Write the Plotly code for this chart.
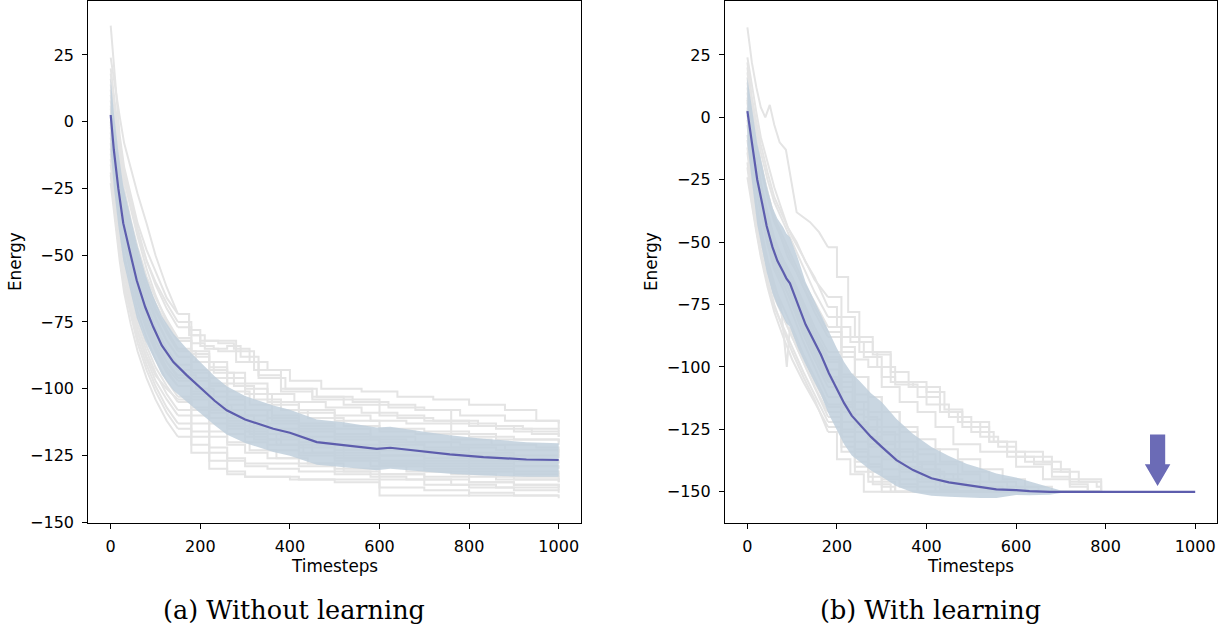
import plotly.graph_objects as go

# ---------------- Panel (a): without learning ----------------
T_MEAN_A = [0, 7, 17, 28, 43, 58, 77, 95, 114, 140, 170, 207, 232, 259, 300, 363, 400,
            460, 520, 594, 624, 700, 757, 832, 928, 1000]
MEAN_A = [2.5, -10.6, -25, -38, -48.8, -59.4, -69.4, -76.9, -83.8, -90, -95, -100.6,
          -104.5, -108.1, -111.5, -115, -116.5, -120, -121, -122.5, -122.1, -123.6, -124.6,
          -125.6, -126.5, -126.7]
STD_A = [14, 14, 14, 14, 14, 14, 12.5, 11.5, 11, 10.7, 10, 9.5, 9.2, 9, 8.8, 8.7, 8.6,
         8.5, 8.4, 8, 7.9, 7.5, 7.2, 6.9, 6.5, 6.3]

RUNS_A = [
    [(0, 36), (10, 14), (20, -5), (30, -17), (45, -28), (60, -38), (80, -48), (100, -56),
     (125, -66), (150, -72), (175, -78), (200, -82), (240, -83), (275, -85), (310, -90),
     (350, -93), (400, -97), (470, -100), (560, -101), (640, -103), (720, -104),
     (800, -106), (880, -108), (950, -112), (1000, -113)],
    [(0, 24), (10, 12), (20, 2), (30, -8), (45, -18), (60, -27), (80, -38), (100, -50),
     (125, -62), (150, -72), (175, -80), (210, -82), (250, -82), (280, -86), (320, -93),
     (380, -100), (450, -104), (520, -106), (600, -110), (700, -112), (800, -114),
     (900, -116), (1000, -118)],
    [(0, 18), (10, 4), (20, -12), (30, -22), (45, -33), (60, -43), (80, -55), (100, -65),
     (125, -75), (150, -82), (180, -88), (220, -92), (260, -96), (300, -100), (350, -105),
     (420, -108), (500, -110), (580, -112), (660, -113), (760, -117), (860, -119),
     (1000, -121)],
    [(0, 12), (10, -3), (20, -18), (30, -30), (45, -42), (60, -52), (80, -62), (100, -70),
     (125, -78), (150, -85), (180, -90), (220, -96), (260, -101), (310, -106), (360, -110),
     (420, -113), (500, -115), (580, -118), (680, -120), (780, -121), (880, -123),
     (1000, -124)],
    [(0, 8), (10, -8), (20, -22), (30, -34), (45, -45), (60, -55), (80, -65), (100, -73),
     (125, -82), (150, -88), (180, -94), (220, -99), (260, -104), (300, -108), (360, -112),
     (420, -115), (500, -118), (600, -120), (700, -122), (800, -124), (900, -125),
     (1000, -126)],
    [(0, 5), (10, -11), (20, -25), (30, -36), (45, -48), (60, -58), (80, -68), (100, -77),
     (125, -85), (150, -91), (180, -96), (220, -101), (260, -106), (300, -110), (350, -113),
     (420, -116), (500, -119), (600, -121), (700, -123), (800, -125), (900, -127),
     (1000, -128)],
    [(0, 2), (10, -14), (20, -28), (30, -39), (45, -50), (60, -61), (80, -71), (100, -79),
     (125, -87), (150, -93), (180, -97), (220, -103), (260, -108), (300, -112), (350, -115),
     (420, -118), (500, -121), (600, -123), (700, -124), (800, -126), (900, -127),
     (1000, -127)],
    [(0, -2), (10, -17), (20, -31), (30, -42), (45, -53), (60, -63), (80, -73), (100, -82),
     (125, -90), (150, -96), (180, -101), (220, -106), (260, -111), (300, -114),
     (350, -117), (420, -120), (500, -123), (600, -125), (700, -126), (800, -128),
     (900, -129), (1000, -130)],
    [(0, -6), (10, -21), (20, -35), (30, -46), (45, -57), (60, -67), (80, -77), (100, -85),
     (125, -93), (150, -99), (180, -104), (220, -109), (260, -113), (300, -116),
     (350, -119), (420, -122), (500, -125), (600, -127), (700, -128), (800, -129),
     (900, -131), (1000, -132)],
    [(0, -10), (10, -25), (20, -39), (30, -50), (45, -61), (60, -71), (80, -81), (100, -89),
     (125, -97), (150, -103), (180, -108), (220, -113), (260, -117), (300, -120),
     (350, -123), (420, -125), (500, -127), (600, -129), (700, -131), (800, -133),
     (900, -134), (1000, -135)],
    [(0, -14), (10, -29), (20, -43), (30, -55), (45, -66), (60, -76), (80, -86), (100, -94),
     (125, -102), (150, -108), (180, -113), (220, -118), (260, -121), (300, -124),
     (350, -126), (420, -128), (500, -130), (600, -132), (700, -134), (800, -135),
     (900, -136), (1000, -137)],
    [(0, -19), (10, -34), (20, -48), (30, -60), (45, -71), (60, -81), (80, -91), (100, -99),
     (125, -107), (150, -113), (180, -118), (220, -124), (260, -127), (300, -129),
     (350, -130), (420, -131), (500, -132), (600, -134), (700, -136), (800, -137),
     (900, -138), (1000, -139)],
    [(0, -23), (10, -38), (20, -52), (30, -64), (45, -76), (60, -86), (80, -96), (100, -104),
     (125, -112), (150, -118), (180, -124), (220, -130), (260, -132), (300, -133),
     (400, -134), (500, -135), (600, -140), (700, -140), (800, -139), (900, -140),
     (1000, -140)],
    [(0, 16), (10, 2), (20, -10), (30, -20), (45, -32), (60, -42), (80, -52), (100, -60),
     (125, -68), (150, -75), (180, -80), (200, -84), (230, -85), (260, -84), (290, -88),
     (330, -95), (380, -101), (450, -103), (520, -104), (600, -106), (680, -108),
     (760, -113), (860, -115), (940, -117), (1000, -118)],
    [(0, -8), (10, -26), (20, -42), (30, -55), (45, -68), (60, -78), (80, -88), (100, -95),
     (125, -100), (150, -104), (180, -107), (220, -111), (260, -115), (320, -119),
     (380, -121), (450, -124), (520, -126), (600, -128), (700, -130), (800, -131),
     (900, -133), (1000, -134)],
    [(0, 10), (10, -4), (20, -16), (30, -27), (45, -40), (60, -50), (80, -60), (100, -68),
     (125, -76), (150, -82), (180, -87), (220, -93), (260, -98), (300, -102), (360, -106),
     (420, -109), (500, -112), (600, -115), (700, -116), (800, -118), (900, -119),
     (1000, -120)],
    [(0, 6), (10, -9), (20, -20), (30, -31), (45, -43), (60, -53), (80, -63), (100, -71),
     (125, -79), (150, -86), (190, -90), (230, -94), (275, -99), (320, -104), (380, -108),
     (440, -111), (520, -114), (600, -116), (680, -117), (760, -119), (850, -121),
     (950, -122), (1000, -123)],
    [(0, -1), (10, -16), (20, -30), (30, -42), (45, -54), (60, -64), (80, -74), (100, -82),
     (125, -90), (150, -95), (190, -100), (230, -106), (270, -110), (320, -115),
     (380, -118), (450, -121), (520, -124), (600, -125), (700, -127), (800, -127),
     (900, -129), (1000, -129)],
    [(0, -16), (10, -32), (20, -46), (30, -57), (45, -69), (60, -79), (80, -89), (100, -97),
     (125, -104), (150, -110), (180, -116), (220, -122), (260, -126), (300, -128),
     (360, -128), (420, -129), (500, -131), (580, -133), (660, -134), (760, -136),
     (860, -137), (1000, -138)],
    [(0, 20), (10, 6), (20, -8), (30, -19), (45, -30), (60, -40), (80, -52), (100, -61),
     (125, -70), (150, -77), (180, -83), (210, -85), (240, -86), (280, -90), (330, -96),
     (390, -100), (460, -103), (540, -105), (620, -107), (700, -108), (780, -110),
     (880, -112), (1000, -115)],
    [(0, 0), (10, -18), (20, -33), (30, -45), (45, -57), (60, -68), (80, -78), (100, -86),
     (125, -94), (150, -99), (180, -103), (220, -107), (260, -112), (310, -117),
     (370, -121), (430, -124), (500, -126), (580, -129), (660, -131), (760, -132),
     (860, -134), (1000, -135)],
    [(0, 3), (10, -12), (20, -24), (30, -34), (45, -46), (60, -56), (80, -66), (100, -74),
     (125, -82), (150, -88), (180, -93), (220, -98), (260, -103), (300, -108), (350, -111),
     (420, -114), (500, -117), (580, -119), (660, -120), (760, -122), (860, -123),
     (1000, -125)],
    [(0, -12), (10, -28), (20, -42), (30, -53), (45, -64), (60, -74), (80, -84), (100, -92),
     (125, -99), (150, -105), (180, -110), (220, -116), (260, -120), (310, -123),
     (370, -126), (440, -128), (520, -131), (600, -132), (700, -133), (800, -135),
     (900, -136), (1000, -137)],
    [(0, 14), (10, -1), (20, -14), (30, -25), (45, -37), (60, -47), (80, -58), (100, -66),
     (125, -74), (150, -81), (180, -86), (220, -90), (260, -94), (300, -98), (350, -102),
     (410, -105), (480, -107), (560, -109), (640, -111), (720, -112), (820, -114),
     (920, -115), (1000, -116)],
    [(0, -4), (10, -20), (20, -34), (30, -45), (45, -56), (60, -66), (80, -76), (100, -84),
     (125, -92), (150, -97), (180, -102), (220, -108), (260, -114), (300, -118),
     (350, -121), (420, -124), (500, -126), (600, -128), (700, -129), (800, -130),
     (900, -132), (1000, -133)],
    [(0, -20), (10, -36), (20, -50), (30, -62), (45, -73), (60, -83), (80, -93), (100, -101),
     (125, -109), (150, -115), (180, -121), (220, -127), (260, -131), (300, -133),
     (360, -133), (420, -134), (500, -134), (600, -137), (700, -138), (800, -140),
     (900, -140), (1000, -141)],
]
SPLIT_A = 150

# ---------------- Panel (b): with learning ----------------
T_MEAN_B = [0, 11, 22, 33, 43, 56, 67, 80, 87, 95, 100, 113, 130, 147, 164, 182, 199, 216,
            233, 250, 276, 300, 333, 370, 411, 450, 489, 520, 556, 600, 630, 675, 700, 1000]
MEAN_B = [2.5, -12, -25, -34.5, -43.5, -52, -57.5, -62, -64.5, -66.5, -69, -75, -83, -89,
          -95, -102.5, -108.7, -114.5, -119.5, -123, -128, -132, -137.3, -141.3, -144.6,
          -146.2, -147.3, -148, -149, -149.3, -149.7, -150, -150, -150]
BAND_UP_B = [13.5, 14, 14.5, 15.5, 16, 16, 17, 18, 18, 18.5, 18.5, 18.5, 17, 16.5, 16.5,
             16.5, 16.5, 16.5, 17, 17.5, 17.5, 18, 16.5, 14.5, 12.5, 10.5, 8.5, 7.5, 6.3,
             5, 3.8, 2, 0.5, 0]
BAND_LO_B = [13.5, 16, 18, 18.5, 18.5, 18.5, 18, 18, 18, 17.5, 17.5, 17.5, 16, 16, 16,
             16.5, 16.5, 16.5, 16, 15, 13.5, 12, 10.5, 9, 7, 5.8, 5, 4.5, 3.5, 2, 1.7, 1.2,
             0.5, 0]

RUNS_B = [
    [(0, 36), (10, 22), (20, 12), (30, 4), (40, 0), (50, 5), (60, -3), (72, -10), (86, -13),
     (97, -25), (110, -38), (140, -42), (160, -46), (180, -52), (200, -64), (225, -78),
     (250, -90), (280, -94), (320, -106), (400, -108), (430, -118), (470, -122),
     (540, -130), (580, -136), (680, -141), (720, -145), (790, -148), (790, -150)],
    [(0, 24), (10, 12), (20, 2), (30, -8), (45, -18), (60, -28), (75, -36), (90, -44),
     (110, -50), (130, -58), (150, -64), (180, -76), (200, -84), (230, -90), (260, -96),
     (300, -108), (340, -114), (380, -118), (420, -124), (460, -131), (520, -134),
     (600, -140), (660, -145), (720, -148), (760, -150), (790, -150)],
    [(0, 18), (10, 4), (20, -8), (30, -18), (45, -30), (60, -40), (75, -48), (90, -56),
     (110, -62), (130, -70), (150, -78), (180, -88), (210, -96), (240, -104), (270, -112),
     (300, -118), (340, -126), (380, -133), (430, -138), (480, -142), (540, -146),
     (600, -148), (650, -150), (790, -150)],
    [(0, 12), (10, -3), (20, -15), (30, -26), (45, -38), (60, -48), (80, -58), (100, -66),
     (125, -76), (150, -86), (180, -96), (205, -104), (235, -114), (260, -120), (290, -126),
     (330, -133), (370, -138), (420, -143), (470, -146), (520, -148), (570, -150),
     (790, -150)],
    [(0, 8), (10, -8), (20, -20), (30, -30), (45, -42), (60, -52), (80, -60), (100, -68),
     (125, -80), (150, -90), (180, -101), (205, -110), (235, -119), (260, -125), (290, -131),
     (330, -138), (380, -143), (430, -146), (480, -148), (540, -150), (790, -150)],
    [(0, 4), (10, -11), (20, -23), (30, -33), (45, -45), (60, -56), (80, -63), (100, -72),
     (125, -84), (150, -94), (180, -105), (210, -115), (240, -123), (270, -129), (300, -134),
     (340, -140), (390, -145), (440, -148), (500, -150), (790, -150)],
    [(0, 1), (10, -14), (20, -26), (30, -36), (45, -48), (60, -58), (80, -66), (100, -75),
     (125, -87), (150, -97), (180, -108), (210, -118), (240, -126), (270, -132), (300, -137),
     (340, -142), (380, -146), (430, -149), (470, -150), (790, -150)],
    [(0, -3), (10, -18), (20, -29), (30, -39), (45, -51), (60, -61), (80, -69), (100, -78),
     (125, -90), (150, -100), (180, -112), (210, -122), (240, -130), (270, -136),
     (300, -141), (340, -145), (380, -148), (420, -150), (790, -150)],
    [(0, -7), (10, -22), (20, -34), (30, -44), (45, -57), (60, -67), (75, -76), (88, -100),
     (95, -84), (110, -90), (130, -98), (150, -106), (180, -116), (210, -126), (240, -134),
     (270, -140), (300, -145), (340, -148), (380, -150), (790, -150)],
    [(0, -12), (10, -27), (20, -38), (30, -48), (45, -60), (60, -70), (80, -80), (100, -88),
     (125, -98), (150, -108), (180, -120), (210, -130), (240, -138), (270, -144),
     (300, -148), (330, -150), (790, -150)],
    [(0, -18), (10, -32), (20, -43), (30, -53), (45, -65), (60, -75), (80, -85), (100, -94),
     (125, -104), (150, -113), (180, -126), (200, -137), (230, -143), (260, -150),
     (790, -150)],
    [(0, -24), (10, -36), (20, -46), (30, -56), (45, -68), (60, -78), (80, -88), (100, -97),
     (125, -106), (150, -114), (180, -124), (210, -134), (240, -142), (280, -147),
     (320, -150), (790, -150)],
    [(0, 14), (10, 0), (20, -10), (30, -20), (45, -32), (60, -42), (80, -50), (100, -58),
     (125, -68), (150, -76), (180, -86), (210, -92), (240, -97), (270, -100), (300, -104),
     (330, -106), (370, -108), (400, -110), (440, -117), (480, -122), (520, -128),
     (560, -132), (600, -136), (640, -139), (680, -144), (720, -147), (760, -150),
     (790, -150)],
    [(0, 20), (10, 6), (20, -5), (30, -14), (45, -25), (60, -34), (80, -42), (100, -50),
     (125, -60), (150, -70), (180, -80), (210, -88), (250, -94), (290, -100), (330, -107),
     (380, -112), (430, -118), (480, -124), (540, -130), (580, -134), (620, -138),
     (680, -142), (720, -146), (780, -148), (790, -150)],
    [(0, 6), (10, -9), (20, -20), (30, -30), (45, -42), (60, -52), (80, -60), (100, -68),
     (125, -78), (150, -88), (180, -98), (210, -108), (240, -117), (270, -124), (300, -130),
     (340, -136), (380, -141), (430, -145), (480, -148), (530, -150), (790, -150)],
    [(0, -1), (10, -16), (20, -27), (30, -37), (45, -50), (60, -60), (80, -67), (100, -74),
     (125, -85), (150, -95), (180, -106), (210, -116), (240, -124), (270, -131), (300, -136),
     (340, -141), (380, -145), (420, -148), (460, -150), (790, -150)],
    [(0, 10), (10, -5), (20, -17), (30, -27), (45, -39), (60, -49), (80, -57), (100, -64),
     (125, -74), (150, -84), (180, -94), (210, -103), (240, -111), (270, -118), (300, -124),
     (340, -130), (380, -135), (420, -139), (470, -143), (520, -146), (580, -148),
     (620, -150), (790, -150)],
    [(0, -9), (10, -24), (20, -36), (30, -46), (45, -58), (60, -68), (80, -76), (100, -84),
     (125, -95), (150, -104), (180, -115), (210, -125), (240, -133), (270, -139),
     (300, -144), (340, -147), (380, -150), (790, -150)],
    [(0, 16), (10, 2), (20, -9), (30, -19), (45, -30), (60, -40), (80, -48), (100, -56),
     (125, -66), (150, -74), (180, -84), (210, -94), (240, -104), (270, -112), (300, -118),
     (340, -124), (380, -129), (420, -133), (470, -137), (520, -141), (570, -145),
     (620, -148), (680, -150), (790, -150)],
    [(0, -20), (10, -34), (20, -45), (30, -55), (45, -66), (60, -76), (80, -84), (100, -92),
     (125, -102), (150, -111), (180, -122), (210, -132), (240, -140), (270, -146),
     (300, -150), (790, -150)],
    [(0, 3), (10, -12), (20, -23), (30, -33), (45, -46), (60, -56), (80, -64), (100, -72),
     (125, -82), (150, -92), (180, -104), (210, -114), (240, -122), (270, -128), (300, -133),
     (340, -138), (390, -142), (440, -146), (490, -148), (540, -150), (790, -150)],
    [(0, 22), (10, 8), (20, -2), (30, -11), (45, -22), (60, -32), (80, -40), (100, -48),
     (125, -56), (150, -65), (180, -72), (210, -80), (240, -88), (280, -95), (320, -102),
     (360, -108), (400, -115), (450, -120), (500, -126), (550, -130), (600, -134),
     (660, -138), (700, -142), (740, -146), (790, -150)],
    [(0, -14), (10, -29), (20, -40), (30, -50), (45, -62), (60, -72), (80, -80), (100, -88),
     (125, -98), (150, -108), (180, -118), (210, -128), (240, -136), (270, -142),
     (300, -146), (330, -150), (790, -150)],
    [(0, 7), (10, -7), (20, -18), (30, -28), (45, -40), (60, -50), (80, -57), (100, -64),
     (125, -75), (150, -86), (180, -97), (210, -106), (240, -114), (270, -121), (300, -127),
     (340, -134), (380, -139), (420, -143), (460, -146), (520, -149), (580, -150),
     (790, -150)],
]
SPLIT_B = 180

# Arrow marker in panel (b)
ARROW_T = 916
ARROW_TOP = -127
ARROW_NECK = -139
ARROW_TIP = -147.7
ARROW_SHAFT_HALF = 17
ARROW_HEAD_HALF = 28.5

X_TICKS = [0, 200, 400, 600, 800, 1000]
Y_TICKS = [-150, -125, -100, -75, -50, -25, 0, 25]

GRAY = "#e4e4e4"
BAND = "rgba(191,207,220,0.85)"
MEAN_COLOR = "#5d5dad"
ARROW_COLOR = "#6b6bb6"

W, H = 1226, 628

fig = go.Figure()


def add_runs(runs, split, xa, ya):
    for run in runs:
        ts = [p[0] for p in run]
        es = [p[1] for p in run]
        k = max(i for i, t in enumerate(ts) if t <= split)
        fig.add_trace(go.Scatter(x=ts[:k + 1], y=es[:k + 1], mode="lines",
                                 line=dict(color=GRAY, width=2, shape="linear"),
                                 xaxis=xa, yaxis=ya, hoverinfo="skip"))
        fig.add_trace(go.Scatter(x=ts[k:], y=es[k:], mode="lines",
                                 line=dict(color=GRAY, width=2, shape="hv"),
                                 xaxis=xa, yaxis=ya, hoverinfo="skip"))


def add_band_mean(ts, mean, up, lo, xa, ya):
    lower = [m - s for m, s in zip(mean, lo)]
    upper = [m + s for m, s in zip(mean, up)]
    fig.add_trace(go.Scatter(x=ts, y=lower, mode="lines", line=dict(width=0, color=BAND),
                             xaxis=xa, yaxis=ya, hoverinfo="skip"))
    fig.add_trace(go.Scatter(x=ts, y=upper, mode="lines", line=dict(width=0, color=BAND),
                             fill="tonexty", fillcolor=BAND, xaxis=xa, yaxis=ya,
                             hoverinfo="skip"))
    fig.add_trace(go.Scatter(x=ts, y=mean, mode="lines",
                             line=dict(color=MEAN_COLOR, width=2.2),
                             xaxis=xa, yaxis=ya, hoverinfo="skip"))


add_runs(RUNS_A, SPLIT_A, "x", "y")
add_band_mean(T_MEAN_A, MEAN_A, STD_A, STD_A, "x", "y")
add_runs(RUNS_B, SPLIT_B, "x2", "y2")
add_band_mean(T_MEAN_B, MEAN_B, BAND_UP_B, BAND_LO_B, "x2", "y2")

arrow_x = [ARROW_T - ARROW_SHAFT_HALF, ARROW_T + ARROW_SHAFT_HALF, ARROW_T + ARROW_SHAFT_HALF,
           ARROW_T + ARROW_HEAD_HALF, ARROW_T, ARROW_T - ARROW_HEAD_HALF,
           ARROW_T - ARROW_SHAFT_HALF, ARROW_T - ARROW_SHAFT_HALF]
arrow_y = [ARROW_TOP, ARROW_TOP, ARROW_NECK, ARROW_NECK, ARROW_TIP, ARROW_NECK,
           ARROW_NECK, ARROW_TOP]
fig.add_trace(go.Scatter(x=arrow_x, y=arrow_y, mode="lines", fill="toself",
                         fillcolor=ARROW_COLOR, line=dict(width=0, color=ARROW_COLOR),
                         xaxis="x2", yaxis="y2", hoverinfo="skip"))

tickfont = dict(family="DejaVu Sans", size=16, color="black")
common_x = dict(tickvals=X_TICKS, ticks="outside", ticklen=5, tickwidth=1.2,
                tickcolor="black", showline=True, linecolor="black", linewidth=1.2,
                mirror=True, showgrid=False, zeroline=False, tickfont=tickfont,
                ticklabelstandoff=4, automargin=False)
common_y = dict(tickvals=Y_TICKS, ticks="outside", ticklen=5, tickwidth=1.2,
                tickcolor="black", showline=True, linecolor="black", linewidth=1.2,
                mirror=True, showgrid=False, zeroline=False, tickfont=tickfont,
                ticklabelstandoff=5, automargin=False)

y_dom = [1 - 522.5 / H, 1 - 1 / H]
fig.update_layout(
    width=W, height=H, margin=dict(l=0, r=0, t=0, b=0),
    paper_bgcolor="white", plot_bgcolor="white", showlegend=False,
    xaxis=dict(domain=[88.3 / W, 581.1 / W], range=[-50, 1050], anchor="y", **common_x),
    yaxis=dict(domain=y_dom, range=[-150.1, 45.2], anchor="x", **common_y),
    xaxis2=dict(domain=[725 / W, 1216.7 / W], range=[-50, 1048], anchor="y2", **common_x),
    yaxis2=dict(domain=y_dom, range=[-162.3, 46.6], anchor="x2", **common_y),
)

label_font = dict(family="DejaVu Sans", size=16.8, color="black")
cap_font = dict(family="DejaVu Serif", size=25.5, color="black")
annos = [
    dict(text="Energy", x=15 / W, y=1 - 262 / H, textangle=-90, font=label_font),
    dict(text="Energy", x=651 / W, y=1 - 262 / H, textangle=-90, font=label_font),
    dict(text="Timesteps", x=334.7 / W, y=1 - 565.5 / H, font=label_font),
    dict(text="Timesteps", x=970.9 / W, y=1 - 565.5 / H, font=label_font),
    dict(text="(a) Without learning", x=293.7 / W, y=1 - 610 / H, font=cap_font),
    dict(text="(b) With learning", x=930.3 / W, y=1 - 610 / H, font=cap_font),
]
for a in annos:
    fig.add_annotation(xref="paper", yref="paper", showarrow=False,
                       xanchor="center", yanchor="middle", **a)

fig.write_html("out.html", config={"displayModeBar": False},
               post_script="document.body.style.margin='0px';"
                           "document.body.style.overflow='hidden';")
